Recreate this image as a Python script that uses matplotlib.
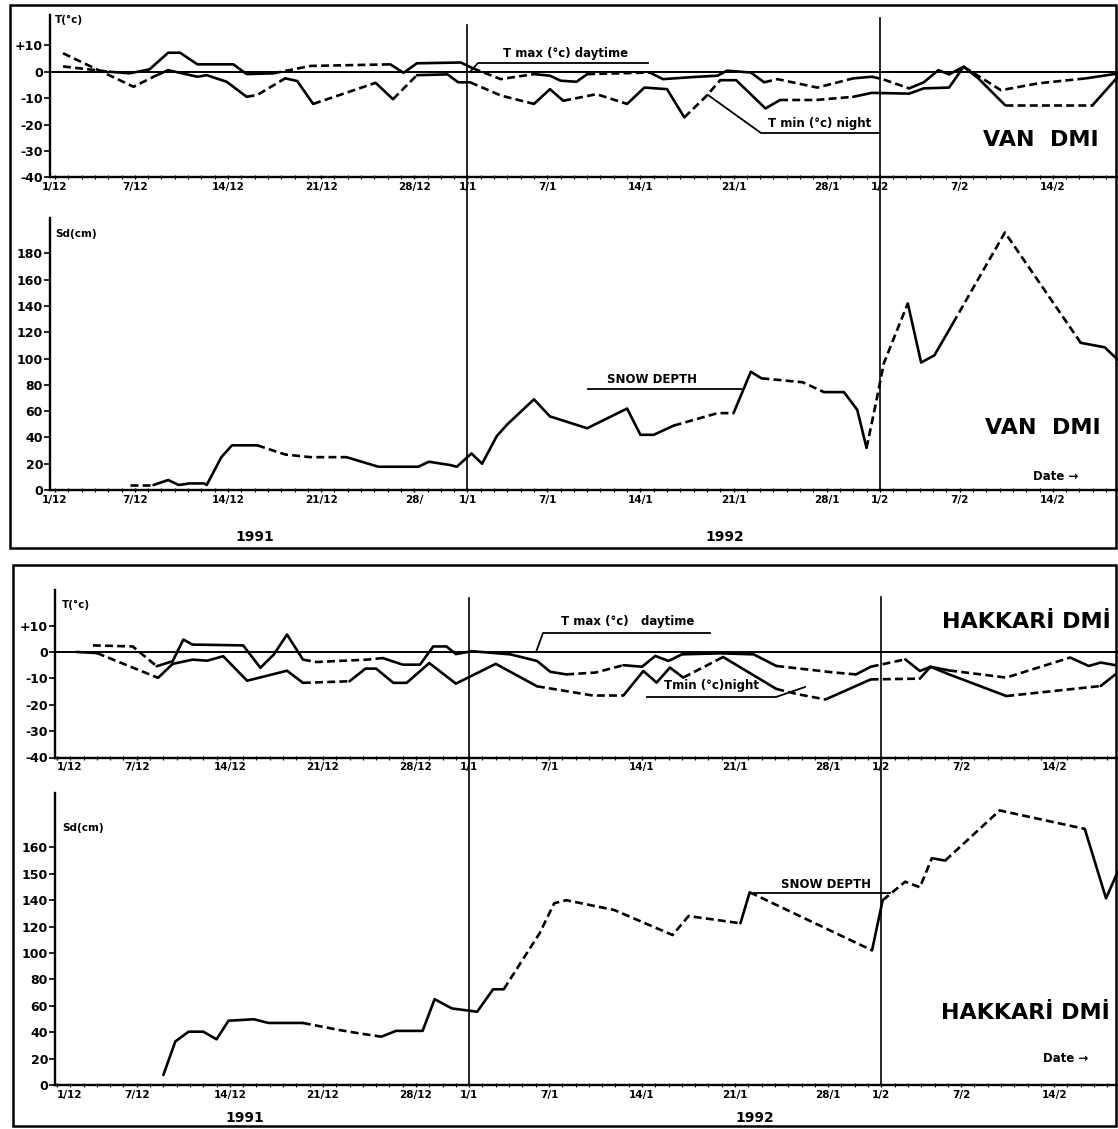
import numpy as np
import matplotlib
matplotlib.use('Agg')
from matplotlib import pyplot as plt
from matplotlib import transforms
from matplotlib.lines import Line2D
from matplotlib.patches import Rectangle
from matplotlib.ticker import MultipleLocator

plt.rcParams['font.family'] = ['DejaVu Sans']

W, H = 1118, 1129  # output size in pixels

# x axis: days counted from 1/12/1991
tickDays = [0, 6, 13, 20, 27, 31, 37, 44, 51, 58, 62, 68, 75]
tickLabels = ['1/12', '7/12', '14/12', '21/12', '28/12', '1/1', '7/1', '14/1', '21/1', '28/1', '1/2', '7/2', '14/2']
vanSnowTickLabels = ['1/12', '7/12', '14/12', '21/12', '28/', '1/1', '7/1', '14/1', '21/1', '28/1', '1/2', '7/2', '14/2']

tempTicks = [-40, -30, -20, -10, 0, 10]
tempTickLabels = ['-40', '-30', '-20', '-10', '0', '+10']
vanSnowTicks = [0, 20, 40, 60, 80, 100, 120, 140, 160, 180]
hakSnowTicks = [0, 20, 40, 60, 80, 100, 120, 140, 150, 160]

# ---- VAN DMI ----
vanTmaxDays = [0.6, 4.1, 5.6, 7.1, 8.5, 9.4, 10.7, 13.4, 14.4, 16.4, 19.2, 25.2, 26.2, 27.2, 30.5, 31.4,
               33.5, 36.0, 37.2, 38.0, 39.2, 40.0, 44.7, 45.7, 48.0, 49.8, 50.5, 52.3, 53.3, 54.3, 57.3,
               60.0, 61.4, 62.2, 64.2, 65.3, 66.4, 67.2, 68.3, 71.1, 73.9, 77.5, 80.0]
vanTmax = [2.0, 0.0, -0.6, 0.9, 7.2, 7.2, 2.8, 2.8, -0.9, -0.6, 2.2, 2.8, -0.4, 3.2, 3.5, 1.3,
           -2.8, -0.9, -1.5, -3.4, -3.8, -0.9, -0.3, -2.8, -2.0, -1.5, 0.4, -0.3, -4.0, -2.8, -6.0,
           -2.5, -1.9, -2.8, -6.3, -4.0, 0.6, -1.0, 1.9, -7.0, -4.4, -2.5, -0.6]

vanTminDays = [0.6, 5.9, 7.4, 8.5, 10.7, 11.4, 12.9, 14.4, 15.2, 17.3, 18.2, 19.4, 24.1, 25.4, 27.2,
               29.5, 30.3, 31.2, 33.5, 36.0, 37.2, 38.2, 40.7, 43.0, 44.3, 46.0, 47.3, 48.9, 50.0, 51.2,
               53.4, 54.5, 57.2, 60.0, 61.4, 64.2, 65.3, 67.2, 68.3, 69.4, 71.4, 78.0, 80.0]
vanTmin = [7.0, -5.7, -1.9, 0.6, -1.9, -1.3, -3.8, -9.5, -8.8, -2.5, -3.5, -12.2, -4.2, -10.4, -1.3,
           -1.0, -4.0, -4.0, -9.0, -12.2, -6.6, -11.0, -8.5, -12.2, -6.0, -6.6, -17.3, -9.5, -3.2, -3.2,
           -13.9, -10.7, -10.7, -9.5, -8.0, -8.3, -6.3, -6.0, 1.9, -2.5, -12.6, -12.6, -1.3]

vanSnowDays = [5.6, 7.4, 8.5, 9.3, 10.1, 11.2, 11.4, 12.5, 13.3, 15.2, 17.3, 19.2, 21.9, 24.3, 27.3,
               28.1, 29.7, 30.2, 31.3, 32.1, 33.2, 34.0, 36.0, 37.2, 40.0, 43.0, 44.0, 45.0, 46.5,
               49.8, 51.0, 52.3, 53.1, 56.2, 57.8, 59.3, 60.3, 61.0, 61.7, 62.3, 64.1, 65.1, 66.1,
               67.5, 71.4, 77.1, 78.9, 79.9]
vanSnow = [3.8, 3.8, 7.6, 3.8, 5, 5, 3.8, 25, 34, 34, 27, 25, 25, 17.7, 17.7,
           21.5, 19, 17.7, 27.8, 20, 41, 50, 69, 56, 47, 62, 42, 42, 49,
           58.5, 58.5, 90, 85, 82, 74.5, 74.5, 61, 32, 66, 96.5, 142, 97, 102.5,
           127, 196, 112, 108.6, 99]

# ---- HAKKARI DMI ----
hakTmaxDays = [2.7, 5.7, 7.5, 8.7, 9.5, 10.2, 14.0, 15.3, 16.3, 17.3, 18.5, 19.5, 23.3, 24.5, 26.0,
               27.3, 28.3, 29.3, 30.0, 31.2, 34.1, 36.1, 37.1, 38.3, 40.5, 42.6, 44.0, 45.0, 46.0,
               47.0, 49.9, 52.4, 54.1, 58.5, 60.1, 61.2, 63.8, 64.9, 65.7, 67.1, 71.4, 76.2, 77.6,
               78.5, 79.6]
hakTmax = [2.5, 2.1, -5.4, -3.5, 4.7, 2.8, 2.5, -6.0, -1.0, 6.6, -2.9, -3.8, -2.9, -2.3, -4.8,
           -4.8, 2.1, 2.1, -0.8, 0.3, -0.9, -3.4, -7.5, -8.5, -7.8, -5.0, -5.6, -1.5, -3.4,
           -0.9, -0.5, -0.9, -5.3, -7.8, -8.5, -5.6, -2.8, -7.2, -5.6, -7.0, -9.7, -2.1, -5.3,
           -4.0, -5.0]

hakTminDays = [1.5, 3.0, 7.6, 8.7, 10.2, 11.3, 12.5, 14.3, 17.3, 18.5, 22.0, 23.2, 24.0, 25.3, 26.3,
               28.0, 30.0, 31.2, 33.0, 36.1, 37.9, 40.3, 42.6, 44.1, 45.1, 46.1, 47.1, 50.1, 54.1,
               55.7, 57.8, 61.2, 64.9, 65.7, 67.1, 71.4, 78.5, 79.6]
hakTmin = [0.0, -0.4, -9.8, -4.5, -2.9, -3.3, -1.6, -10.9, -7.1, -11.7, -11.1, -6.3, -6.3, -11.7, -11.7,
           -4.2, -12.0, -9.0, -4.5, -13.0, -14.5, -16.5, -16.5, -7.2, -11.6, -5.9, -9.7, -1.9, -14.0,
           -16.0, -18.0, -10.4, -10.1, -5.6, -8.5, -16.7, -12.9, -8.5]

hakSnowDays = [8.0, 8.9, 9.9, 11.0, 12.0, 12.9, 14.8, 15.9, 18.5, 21.2, 22.8, 24.4, 25.5, 27.5, 28.4,
               29.7, 31.6, 32.8, 33.6, 36.3, 37.4, 38.3, 41.9, 46.3, 47.5, 51.4, 52.1, 61.3, 62.1,
               63.8, 64.9, 65.8, 66.8, 70.9, 77.3, 78.9, 79.8]
hakSnow = [7.6, 33, 40.4, 40.4, 34.6, 48.7, 49.8, 47, 47, 41.7, 39, 36.6, 41, 41, 65,
           58, 55.5, 72.5, 72.5, 115, 137.7, 140, 132.6, 113.6, 128, 122.5, 143, 102, 140,
           147, 144.9, 155.9, 155, 174, 167, 140.7, 151]

# day ranges that are drawn dashed in the original
vanTmaxDash = [(0, 4.2), (17, 25), (31.4, 36), (40, 44.7), (53.3, 60), (61.4, 64.2), (68.3, 78)]
vanTminDash = [(0, 7.4), (14.4, 17.3), (19.4, 24.1), (25.4, 27.2), (31.2, 36), (38.2, 43), (47.3, 50),
               (54.5, 60), (71.4, 78)]
vanSnowDash = [(0, 7.4), (15.2, 21.9), (46.5, 51), (53.1, 57.8), (61, 64.1), (67.5, 77.1)]
hakTmaxDash = [(0, 7.5), (18.5, 24.5), (38.3, 42.6), (54.1, 60.1), (61.2, 64), (67.1, 76.2)]
hakTminDash = [(3, 7.6), (18.5, 22), (36.1, 42.6), (47.1, 50.1), (54.1, 57.8), (61.2, 64.9), (71.4, 78.5)]
hakSnowDash = [(18.5, 24.4), (33.6, 47.5), (47.5, 51.4), (52.1, 61.3), (62.1, 65.8), (66.8, 77.3)]

fig = plt.figure(figsize=(W / 100, H / 100), dpi=100)


def fy(y):
    return 1 - y / H


def px_axes(l, t, r, b):
    return fig.add_axes([l / W, 1 - b / H, (r - l) / W, (b - t) / H])


def pxline(xs, ys, lw=1.3):
    fig.add_artist(Line2D([x / W for x in xs], [fy(y) for y in ys], transform=fig.transFigure,
                          color='k', lw=lw))


def pxtext(x, y, s, size=8, ha='center', **kw):
    fig.text(x / W, fy(y), s, ha=ha, va='center', fontsize=size, fontweight='bold', **kw)


def draw_series(ax, days, vals, dashRanges):
    days = np.asarray(days, float)
    vals = np.asarray(vals, float)
    mids = (days[:-1] + days[1:]) / 2
    dashed = [any(a <= m <= b for a, b in dashRanges) for m in mids]
    start = 0
    for i in range(1, len(mids) + 1):
        if i == len(mids) or dashed[i] != dashed[start]:
            seg = slice(start, i + 1)
            ls = (0, (3.0, 1.6)) if dashed[start] else '-'
            ax.plot(days[seg], vals[seg], color='k', lw=1.9, linestyle=ls,
                    solid_joinstyle='round', solid_capstyle='round')
            start = i


def style_axes(ax, xlim, ylim, yticks, ylabels, xlabels, firstLeft=False):
    ax.set_xlim(xlim)
    ax.set_ylim(ylim)
    ax.patch.set_alpha(0)
    for s in ['top', 'right']:
        ax.spines[s].set_visible(False)
    for s in ['left', 'bottom']:
        ax.spines[s].set_linewidth(1.7)
    ax.set_xticks(tickDays)
    ax.set_xticklabels(xlabels, fontsize=7.5, fontweight='bold')
    if firstLeft:
        # the first date sits just right of the y axis in the original
        ax.get_xticklabels()[0].set_horizontalalignment('left')
    ax.xaxis.set_minor_locator(MultipleLocator(1))
    ax.tick_params(axis='x', which='major', length=3, width=1, direction='inout', pad=2)
    ax.tick_params(axis='x', which='minor', length=2.5, width=0.8, direction='inout')
    ax.set_yticks(yticks)
    ax.set_yticklabels(ylabels, fontsize=9, fontweight='bold')
    ax.tick_params(axis='y', length=4, width=1.2, direction='out', pad=1)


def vline(ax, day, yTop, yBot):
    tr = transforms.blended_transform_factory(ax.transData, fig.transFigure)
    fig.add_artist(Line2D([day, day], [fy(yTop), fy(yBot)], transform=tr, color='k', lw=1.2))


# hakkari snow axis is broken above 140 (150 and 160 take a full step each)
def hak_fwd(v):
    return np.interp(v, [0, 140, 160, 400], [0, 7, 9, 33])


def hak_inv(i):
    return np.interp(i, [0, 7, 9, 33], [0, 140, 160, 400])


# panel frames
for (l, t, r, b) in [(10, 5, 1116, 548), (13, 565, 1116, 1126)]:
    fig.add_artist(Rectangle((l / W, fy(b)), (r - l) / W, (b - t) / H, transform=fig.transFigure,
                             fill=False, lw=1.8, edgecolor='k'))

vanX = (-0.38, 79.9)
hakX = (-0.15, 79.8)

# VAN temperature
vanT = px_axes(50, 15, 1118, 177.3)
style_axes(vanT, vanX, (-40, 21.5), tempTicks, tempTickLabels, tickLabels)
vanT.axhline(0, color='k', lw=1.4)
draw_series(vanT, vanTmaxDays, vanTmax, vanTmaxDash)
draw_series(vanT, vanTminDays, vanTmin, vanTminDash)

# VAN snow depth
vanS = px_axes(50, 218, 1118, 490)
style_axes(vanS, vanX, (0, 207), vanSnowTicks, [str(v) for v in vanSnowTicks], vanSnowTickLabels)
draw_series(vanS, vanSnowDays, vanSnow, vanSnowDash)

vline(vanT, 31, 25, 490)
vline(vanT, 62, 18, 490)

pxtext(55, 20, 'T(°c)', 7.5, ha='left')
pxtext(55, 234, 'Sd(cm)', 7.5, ha='left')
pxtext(566, 53, 'T max (°c) daytime', 8.5)
pxline([470, 478, 648], [72, 63, 63])
pxtext(820, 124, 'T min (°c) night', 8.5)
pxline([708, 761, 879], [95, 133, 133])
pxtext(652, 380, 'SNOW DEPTH', 8.5)
pxline([588, 741], [389, 389])
pxtext(1041, 140, 'VAN  DMI', 16)
pxtext(1043, 428, 'VAN  DMI', 16)
pxtext(1056, 477, 'Date →', 8.5)
pxtext(255, 537, '1991', 10)
pxtext(725, 537, '1992', 10)

# HAKKARI temperature
hakT = px_axes(55, 590, 1118, 757.5)
style_axes(hakT, hakX, (-40, 23.5), tempTicks, tempTickLabels, tickLabels, firstLeft=True)
hakT.axhline(0, color='k', lw=1.4)
draw_series(hakT, hakTmaxDays, hakTmax, hakTmaxDash)
draw_series(hakT, hakTminDays, hakTmin, hakTminDash)

# HAKKARI snow depth
hakS = px_axes(55, 793, 1118, 1085)
hakS.set_yscale('function', functions=(hak_fwd, hak_inv))
style_axes(hakS, hakX, (0, 180.6), hakSnowTicks, [str(v) for v in hakSnowTicks], tickLabels,
           firstLeft=True)
hakS.yaxis.set_minor_locator(plt.NullLocator())
draw_series(hakS, hakSnowDays, hakSnow, hakSnowDash)

vline(hakT, 31, 598, 1085)
vline(hakT, 62, 597, 1085)

pxtext(62, 605, 'T(°c)', 7.5, ha='left')
pxtext(62, 828, 'Sd(cm)', 7.5, ha='left')
pxtext(628, 622, 'T max (°c)   daytime', 8.5)
pxline([536, 543, 710], [652, 633, 633])
pxtext(711, 686, 'Tmin (°c)night', 8.5)
pxline([647, 776, 805], [697, 697, 687])
pxtext(826, 885, 'SNOW DEPTH', 8.5)
pxline([754, 890], [893, 893])
pxtext(1111, 622, 'HAKKARİ DMİ', 16, ha='right')
pxtext(1110, 1013, 'HAKKARİ DMİ', 16, ha='right')
pxtext(1066, 1058, 'Date →', 8.5)
pxtext(245, 1118, '1991', 10)
pxtext(755, 1118, '1992', 10)

fig.savefig('out.png', dpi=100)
